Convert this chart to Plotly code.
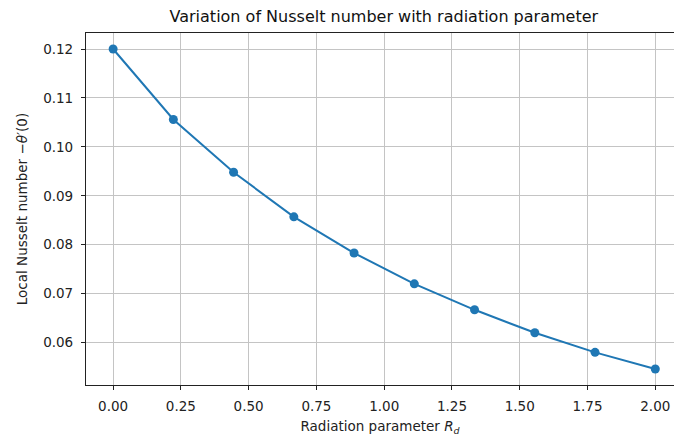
import numpy as np
import plotly.graph_objects as go

# Data
rd_values = [0.0, 0.2222, 0.4444, 0.6667, 0.8889, 1.1111, 1.3333, 1.5556, 1.7778, 2.0]
nusselt = [0.1200, 0.1056, 0.0948, 0.0857, 0.0783, 0.0720, 0.0667, 0.0620, 0.0580, 0.0546]
x_ticks = [0.0, 0.25, 0.5, 0.75, 1.0, 1.25, 1.5, 1.75, 2.0]
y_ticks = [0.06, 0.07, 0.08, 0.09, 0.10, 0.11, 0.12]

title_text = "Variation of Nusselt number with radiation parameter"
x_label = "Radiation parameter <i>R<sub>d</sub></i>"
y_label = "Local Nusselt number −<i>θ</i>′(0)"

W, H = 674, 442
L, R, T, B = 86, 0, 33, 57

# matplotlib-like 5% margins
ymin, ymax = min(nusselt), max(nusselt)
yspan = ymax - ymin
y_range = [ymin - 0.05 * yspan, ymax + 0.05 * yspan]
xmin, xmax = min(rd_values), max(rd_values)
xspan = xmax - xmin
x_lo = xmin - 0.05 * xspan
full_w = 1.1 * xspan  # full axes width in data units (right side cropped in reference)
x_hi = x_lo + full_w * (W - L - R) / 596.4

font_fam = "DejaVu Sans, Arial, sans-serif"

fig = go.Figure()
fig.add_trace(go.Scatter(
    x=rd_values, y=nusselt, mode="lines+markers",
    line=dict(color="#1f77b4", width=2),
    marker=dict(color="#1f77b4", size=9),
    showlegend=False,
))

axis_common = dict(
    showline=True, linecolor="#222222", linewidth=1.2,
    ticks="outside", ticklen=4, tickwidth=1, tickcolor="#222222",
    showgrid=True, gridcolor="#c4c4c4", gridwidth=1,
    zeroline=False,
    tickfont=dict(family=font_fam, size=13.5, color="#222222"),
)

fig.update_xaxes(
    **axis_common, range=[x_lo, x_hi], tickvals=x_ticks,
    ticktext=[f"{v:.2f}" for v in x_ticks], mirror=True,
    ticklabelstandoff=5,
    title=dict(text=x_label, font=dict(family=font_fam, size=13.5, color="#222222"), standoff=8),
)
fig.update_yaxes(
    **axis_common, range=y_range, tickvals=y_ticks,
    ticktext=[f"{v:.2f}" for v in y_ticks],
    ticklabelstandoff=5,
    title=dict(text=y_label, font=dict(family=font_fam, size=13.5, color="#222222"), standoff=12),
)

fig.update_layout(
    width=W, height=H,
    margin=dict(l=L, r=R, t=T, b=B),
    paper_bgcolor="white", plot_bgcolor="white",
    title=dict(text=title_text, x=(383.8 - L) / (W - L - R), xref="paper",
               xanchor="center", y=1 - 16 / H, yanchor="middle",
               font=dict(family=font_fam, size=16, color="#111111")),
)

fig.write_html("out.html")
